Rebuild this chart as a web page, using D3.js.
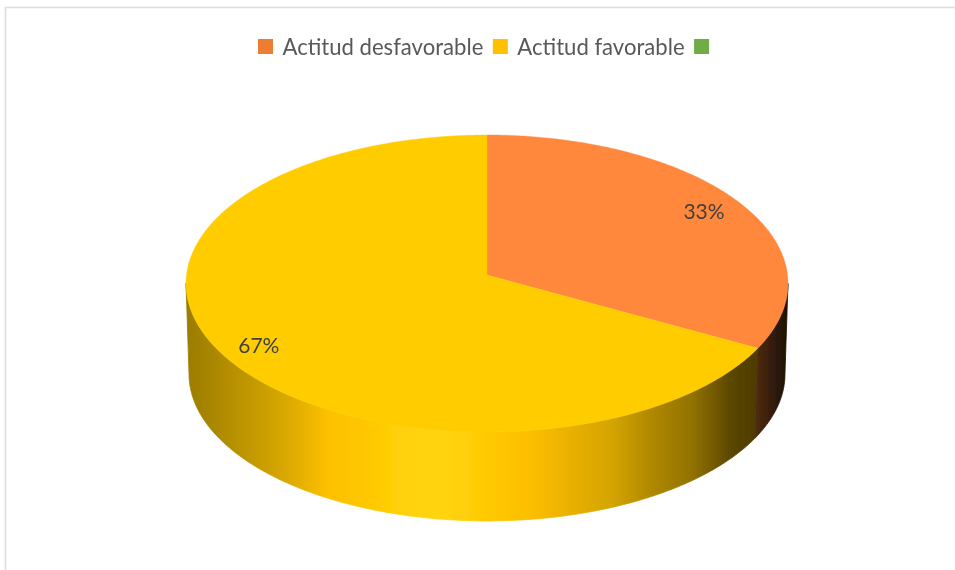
<!DOCTYPE html>
<html>
<head>
<meta charset="utf-8">
<script src="https://cdn.jsdelivr.net/npm/d3@7/dist/d3.min.js"></script>
<style>
html,body{margin:0;padding:0;background:#fff;overflow:hidden}
svg{display:block}
text{font-family:Lato,"Open Sans",sans-serif}
</style>
</head>
<body>
<svg id="chart" width="955" height="570"></svg>
<script>
// Data
const categories = ["Actitud desfavorable", "Actitud favorable", ""];
const values = [33, 67, 0];
const labels = ["33%", "67%", ""];

// Styles
const topColors = ["#FF883D", "#FFCC05", "#7CBF4E"];
const legendColors = ["#ED7D31", "#FFC000", "#70AD47"];
const yellowShade = [[186,"#9c7c00"],[210,"#a88600"],[290,"#dcaa00"],[327,"#fdc000"],[370,"#ffc802"],[400,"#ffd108"],[445,"#ffd40c"],[475,"#ffcc06"],[531,"#fdbe00"],[572,"#e8b000"],[612,"#d4a400"],[652,"#b08800"],[692,"#927200"],[732,"#5a4600"],[757,"#4e3c00"]];
const orangeShade = [[756,"#4e2c12"],[765,"#40220e"],[775,"#2e1a08"],[788,"#1c1005"]];

const W = 955, H = 570;
const cx = 487, apexY = 275, R = 300.5, Ry = 148, k = 0.0572;
const depth = 90.5, lowerScale = 0.99;
const frontStart = Math.PI / 2 + 0.057, frontEnd = 3 * Math.PI / 2 - 0.057;

const svg = d3.select("#chart");
const defs = svg.append("defs");
defs.append("filter").attr("id", "soft").attr("x", "-5%").attr("y", "-20%").attr("width", "110%").attr("height", "140%")
  .append("feGaussianBlur").attr("stdDeviation", 0.55);
defs.append("filter").attr("id", "softEdge").attr("x", "-5%").attr("y", "-5%").attr("width", "110%").attr("height", "110%")
  .append("feGaussianBlur").attr("stdDeviation", 0.6);

// Chart frame
svg.append("path").attr("d", `M${W},7.5H5.5V${H}`).attr("fill", "none").attr("stroke", "#dcdcdc").attr("stroke-width", 1.5);

// Perspective projection of a point on the unit pie
function project(angle, f, scale, dy) {
  const u = Math.sin(angle) * f, v = -Math.cos(angle) * f;
  const s = 1 / (1 - k * v);
  return [cx + R * scale * u * s, apexY + dy + Ry * scale * v * s];
}

function makeGradient(id, stops) {
  const x = d3.scaleLinear().domain([stops[0][0], stops[stops.length - 1][0]]).range([0, 1]);
  const g = defs.append("linearGradient").attr("id", id).attr("gradientUnits", "userSpaceOnUse")
    .attr("x1", stops[0][0]).attr("x2", stops[stops.length - 1][0]).attr("y1", 0).attr("y2", 0);
  stops.forEach(d => g.append("stop").attr("offset", x(d[0])).attr("stop-color", d[1]));
}
makeGradient("side0", orangeShade);
makeGradient("side1", yellowShade);

const arcs = d3.pie().sort(null).value(d => d)(values).filter(d => d.value > 0);
const line = d3.line();
const pie = svg.append("g").attr("filter", "url(#softEdge)");

function sampleRange(a0, a1) {
  const n = Math.ceil((a1 - a0) / 0.01);
  return d3.range(n + 1).map(i => a0 + (a1 - a0) * i / n);
}

// Side wall: only the part of each slice facing the viewer
pie.selectAll("path.side").data(arcs.slice().reverse()).join("path").attr("class", "side")
  .attr("fill", d => `url(#side${d.index})`)
  .attr("stroke", d => `url(#side${d.index})`).attr("stroke-width", 0.8)
  .attr("d", d => {
    const t = sampleRange(Math.max(d.startAngle, frontStart), Math.min(d.endAngle, frontEnd));
    const up = t.map(a => project(a, 1, 1, 0));
    const low = t.slice().reverse().map(a => project(a, 1, lowerScale, depth));
    return line(up.concat(low)) + "Z";
  });

// Top face
pie.selectAll("path.top").data(arcs).join("path").attr("class", "top")
  .attr("fill", d => topColors[d.index])
  .attr("stroke", d => topColors[d.index]).attr("stroke-width", 0.4)
  .attr("d", d => line([project(0, 0, 1, 0)].concat(sampleRange(d.startAngle, d.endAngle).map(a => project(a, 1, 1, 0)))) + "Z");

// Data labels
svg.append("g").attr("filter", "url(#soft)").selectAll("text").data(arcs).join("text")
  .attr("font-size", 21).attr("fill", "#404040")
  .attr("text-anchor", "middle").attr("dominant-baseline", "middle")
  .attr("x", d => project((d.startAngle + d.endAngle) / 2, 0.86, 1, 0)[0])
  .attr("y", d => project((d.startAngle + d.endAngle) / 2, 0.86, 1, 0)[1] + (d.index === 1 ? 6 : 2))
  .text(d => labels[d.index]);

// Legend
const legend = svg.append("g").attr("filter", "url(#soft)");
const swatch = 15, gap = 9.5;
let lx = 258;
categories.forEach((c, i) => {
  legend.append("rect").attr("x", lx).attr("y", 39).attr("width", swatch).attr("height", swatch).attr("fill", legendColors[i]);
  lx += swatch + gap;
  if (c) {
    const t = legend.append("text").attr("x", lx).attr("y", 49).attr("font-size", 22.1)
      .attr("dominant-baseline", "middle").attr("fill", "#595959").text(c);
    lx += t.node().getComputedTextLength() + gap;
  }
});
</script>
</body>
</html>
